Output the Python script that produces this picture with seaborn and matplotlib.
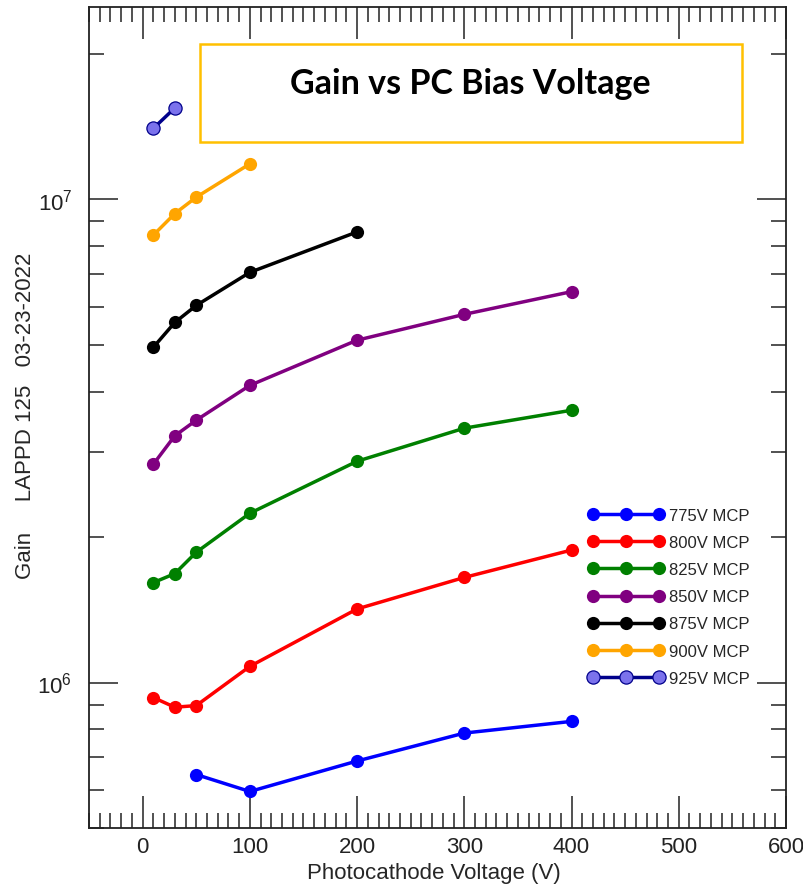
import numpy as np
import pandas as pd
import matplotlib
matplotlib.use("Agg")
import matplotlib.pyplot as plt
from matplotlib.ticker import LogLocator, MultipleLocator, NullFormatter
from matplotlib.patches import Rectangle
import seaborn as sns

# Gain vs photocathode bias for each MCP voltage
x_775 = [50, 100, 200, 300, 400]
gain_775 = [6.45e5, 5.95e5, 6.88e5, 7.86e5, 8.31e5]

x_800 = [10, 30, 50, 100, 200, 300, 400]
gain_800 = [9.31e5, 8.89e5, 8.96e5, 1.08e6, 1.42e6, 1.65e6, 1.88e6]

x_825 = [10, 30, 50, 100, 200, 300, 400]
gain_825 = [1.61e6, 1.68e6, 1.86e6, 2.24e6, 2.87e6, 3.36e6, 3.66e6]

x_850 = [10, 30, 50, 100, 200, 300, 400]
gain_850 = [2.83e6, 3.24e6, 3.49e6, 4.12e6, 5.11e6, 5.78e6, 6.44e6]

x_875 = [10, 30, 50, 100, 200]
gain_875 = [4.94e6, 5.56e6, 6.03e6, 7.06e6, 8.56e6]

x_900 = [10, 30, 50, 100]
gain_900 = [8.43e6, 9.34e6, 1.010e7, 1.184e7]

x_925 = [10, 30]
gain_925 = [1.402e7, 1.545e7]

series_labels = ["775V MCP", "800V MCP", "825V MCP", "850V MCP",
                 "875V MCP", "900V MCP", "925V MCP"]
series_x = [x_775, x_800, x_825, x_850, x_875, x_900, x_925]
series_gain = [gain_775, gain_800, gain_825, gain_850, gain_875, gain_900, gain_925]

line_colors = ["#0000ff", "#ff0000", "#008000", "#800080", "#000000", "#ffa500", "#00008b"]
face_colors = ["#0000ff", "#ff0000", "#008000", "#800080", "#000000", "#ffa500", "#7b72ec"]

df = pd.concat(
    [pd.DataFrame({"pc": xs, "gain": gs, "mcp": lab})
     for xs, gs, lab in zip(series_x, series_gain, series_labels)],
    ignore_index=True,
)

sns.set_style("ticks")
plt.rcParams["font.family"] = ["Liberation Sans", "DejaVu Sans"]
plt.rcParams["axes.edgecolor"] = "#222222"
plt.rcParams["xtick.color"] = "#222222"
plt.rcParams["ytick.color"] = "#222222"

W, H = 804, 887
fig = plt.figure(figsize=(W / 100, H / 100), dpi=100)
ax = fig.add_axes([89 / W, 1 - 829 / H, (786 - 89) / W, (829 - 8) / H])

for lab, lc, fc in zip(series_labels, line_colors, face_colors):
    sub = df[df["mcp"] == lab]
    sns.lineplot(data=sub, x="pc", y="gain", ax=ax, color=lc, marker="o",
                 markersize=9.5, markerfacecolor=fc,
                 markeredgecolor=lc, markeredgewidth=0.9 if lab == "925V MCP" else 0,
                 linewidth=2.5, label=lab, sort=False)

ax.set_yscale("log")
ax.set_xlim(-50, 600)
ax.set_ylim(5e5, 2.5e7)

ax.xaxis.set_major_locator(MultipleLocator(100))
ax.xaxis.set_minor_locator(MultipleLocator(10))
ax.yaxis.set_major_locator(LogLocator(base=10, numticks=10))
ax.yaxis.set_minor_locator(LogLocator(base=10, subs=np.arange(2, 10), numticks=20))
ax.yaxis.set_minor_formatter(NullFormatter())

ax.tick_params(axis="both", which="both", direction="in",
               top=True, right=True, labelsize=16, width=1.1)
ax.tick_params(axis="x", which="major", length=23, pad=6)
ax.tick_params(axis="x", which="minor", length=11)
ax.tick_params(axis="y", which="major", length=21, pad=12)
ax.tick_params(axis="y", which="minor", length=11)
for sp in ax.spines.values():
    sp.set_linewidth(1.3)

ax.set_xlabel("Photocathode Voltage (V)", fontsize=16)
ax.set_ylabel("Gain     LAPPD 125   03-23-2022", fontsize=16)
ax.xaxis.set_label_coords(0.495, -0.042)
ax.yaxis.set_label_coords(-0.076, 0.503)

# Title inside a framed box
ax.add_patch(Rectangle((0.159, 0.8356), 0.778, 0.1194, transform=ax.transAxes,
                       fill=False, edgecolor="#ffc000", linewidth=1.8, zorder=5))
ax.text(0.547, 0.895, "Gain vs PC Bias Voltage", transform=ax.transAxes,
        ha="center", va="baseline", fontsize=24.5, fontweight="bold",
        family=["Lato", "DejaVu Sans"], color="black")

leg_handles, leg_labels = ax.get_legend_handles_labels()
ax.legend(leg_handles, leg_labels, numpoints=3, handlelength=4.58,
          handletextpad=0.3, labelspacing=0.73, borderpad=0, frameon=False,
          fontsize=12, loc="upper left",
          bbox_to_anchor=(579.7 / W, 1 - 500.5 / H), bbox_transform=fig.transFigure)

fig.savefig("out.png", dpi=100)
